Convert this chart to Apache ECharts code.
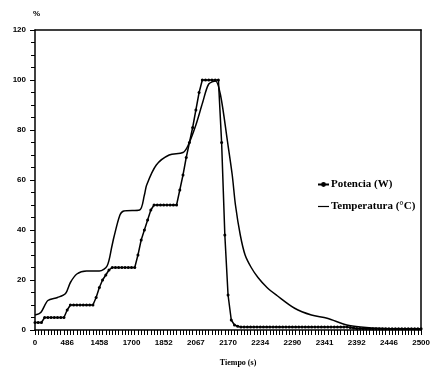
<!DOCTYPE html>
<html>
<head>
<meta charset="utf-8">
<script src="https://cdn.jsdelivr.net/npm/echarts@6/dist/echarts.min.js"></script>
<style>
  html, body { margin: 0; padding: 0; background: #fff; }
  #chart { width: 433px; height: 372px; }
</style>
</head>
<body>
<div id="chart"></div>
<script>
// x axis is the sample number; labels show the time (s) every 10 samples
const timeLabels = ['0', '486', '1458', '1700', '1852', '2067', '2170', '2234', '2290', '2341', '2392', '2446', '2500'];

// Potencia (W): read at each sample
const powerIdx = [
    0, 1, 2, 3, 4, 5, 6, 7, 8, 9, 10, 11, 12, 13, 14, 15, 16, 17, 18, 19,
    20, 21, 22, 23, 24, 25, 26, 27, 28, 29, 30, 31, 32, 33, 34, 35, 36, 37, 38, 39,
    40, 41, 42, 43, 44, 45, 46, 47, 48, 49, 50, 51, 52, 53, 54, 55, 56, 57, 58, 59,
    60, 61, 62, 63, 64, 65, 66, 67, 68, 69, 70, 71, 72, 73, 74, 75, 76, 77, 78, 79,
    80, 81, 82, 83, 84, 85, 86, 87, 88, 89, 90, 91, 92, 93, 94, 95, 96, 97, 98, 99,
    100, 101, 102, 103, 104, 105, 106, 107, 108, 109, 110, 111, 112, 113, 114, 115, 116, 117, 118, 119, 120
];
const powerVal = [
    3, 3, 3, 5, 5, 5, 5, 5, 5, 5, 8, 10, 10, 10, 10, 10, 10, 10, 10, 13,
    17, 20, 22, 24, 25, 25, 25, 25, 25, 25, 25, 25, 30, 36, 40, 44, 48, 50, 50, 50,
    50, 50, 50, 50, 50, 56, 62, 69, 75, 81, 88, 95, 100, 100, 100, 100, 100, 100, 75, 38,
    14, 4, 2, 1.5, 1.2, 1.2, 1.2, 1.2, 1.2, 1.2, 1.2, 1.2, 1.2, 1.2, 1.2, 1.2, 1.2, 1.2, 1.2, 1.2,
    1.2, 1.2, 1.2, 1.2, 1.2, 1.2, 1.2, 1.2, 1.2, 1.2, 1.2, 1.2, 1.2, 1.2, 1.2, 1.2, 1.2, 1.2, 1, 0.8,
    0.6, 0.6, 0.5, 0.5, 0.5, 0.5, 0.5, 0.5, 0.5, 0.5, 0.5, 0.5, 0.5, 0.5, 0.5, 0.5, 0.5, 0.5, 0.5, 0.5, 0.5
];

// Temperatura (°C): points
const tempIdx = [0, 1.8, 4.0, 7.0, 9.5, 11.0, 13.0, 16.0, 20.0, 22.4, 23.9, 24.5, 26.4, 27.6, 32.5, 34.0, 34.7, 37.7, 41.7, 46.0, 47.5, 50.0, 52.1, 54.0, 56.1, 57.7, 59.8, 61.3, 62.3, 63.8, 65.3, 67.2, 69.3, 72.1, 75.2, 80.7, 85.9, 90.8, 96.9, 101.2, 108.3, 120];
const tempVal = [6, 7, 11.8, 13, 14.6, 19, 22.4, 23.6, 23.6, 25.6, 33.5, 37, 46, 47.6, 48, 54, 58, 66, 70, 71, 73.6, 82, 91, 98.4, 99.6, 93.7, 75.6, 62, 50, 38, 30, 25, 21, 17, 13.8, 8.7, 6, 4.7, 2, 1.2, 0.6, 0.3];

const labelFont = { color: '#000', fontSize: 8, fontWeight: 'bold', fontFamily: 'Liberation Sans' };
const black = { color: '#000', width: 1.5 };

const chart = echarts.init(document.getElementById('chart'));

chart.setOption({
    animation: false,
    backgroundColor: '#fff',
    grid: { left: 35, right: 3, top: 30, bottom: 37 },
    legend: {
        orient: 'vertical',
        left: 312,
        top: 174,
        itemGap: 11,
        itemWidth: 11,
        itemHeight: 6,
        textStyle: { color: '#000', fontSize: 11, fontFamily: 'Liberation Serif', fontWeight: 'bold', padding: [0, 0, 0, -3] },
        data: [
            { name: 'Potencia (W)' },
            // plain short line, no dot
            { name: 'Temperatura (°C)', icon: 'path://M0,0 M0,2.4 H11 V3.6 H0 Z M11,6' },
        ],
    },
    xAxis: [
        {
            type: 'value',
            min: 0,
            max: 120,
            interval: 10,
            name: 'Tiempo (s)',
            nameLocation: 'middle',
            nameGap: 29,
            nameTextStyle: { ...labelFont, fontFamily: 'Liberation Serif', padding: [0, 0, 0, 20] },
            axisLine: { onZero: false, lineStyle: black },
            axisTick: { length: 5, lineStyle: { color: '#000', width: 1 } },
            minorTick: { show: true, splitNumber: 10, length: 5, lineStyle: { color: '#000', width: 1 } },
            axisLabel: { ...labelFont, margin: 9, formatter: v => timeLabels[Math.round(v / 10)] },
            splitLine: { show: false },
        },
        {
            type: 'value',
            position: 'top',
            min: 0,
            max: 120,
            axisLine: { show: true, onZero: false, lineStyle: black },
            axisTick: { show: false },
            axisLabel: { show: false },
            splitLine: { show: false },
        },
    ],
    yAxis: [
        {
            type: 'value',
            min: 0,
            max: 120,
            interval: 20,
            name: '%',
            nameLocation: 'end',
            nameGap: 12,
            nameTextStyle: { ...labelFont, align: 'left', padding: [0, 0, 0, -2] },
            axisLine: { show: true, onZero: false, lineStyle: black },
            axisTick: { length: 5, lineStyle: { color: '#000', width: 1 } },
            minorTick: { show: true, splitNumber: 4, length: 4, lineStyle: { color: '#000', width: 1 } },
            axisLabel: { ...labelFont, margin: 9 },
            splitLine: { show: false },
        },
        {
            type: 'value',
            position: 'right',
            min: 0,
            max: 120,
            axisLine: { show: true, onZero: false, lineStyle: black },
            axisTick: { show: false },
            axisLabel: { show: false },
            splitLine: { show: false },
        },
    ],
    series: [
        {
            name: 'Potencia (W)',
            type: 'line',
            data: powerIdx.map((x, i) => [x, powerVal[i]]),
            lineStyle: black,
            itemStyle: { color: '#000' },
            symbol: 'circle',
            symbolSize: 3,
            showSymbol: true,
        },
        {
            name: 'Temperatura (°C)',
            type: 'line',
            data: tempIdx.map((x, i) => [x, tempVal[i]]),
            smooth: 0.3,
            lineStyle: black,
            itemStyle: { color: '#000' },
            symbol: 'none',
        },
    ],
});
</script>
</body>
</html>
